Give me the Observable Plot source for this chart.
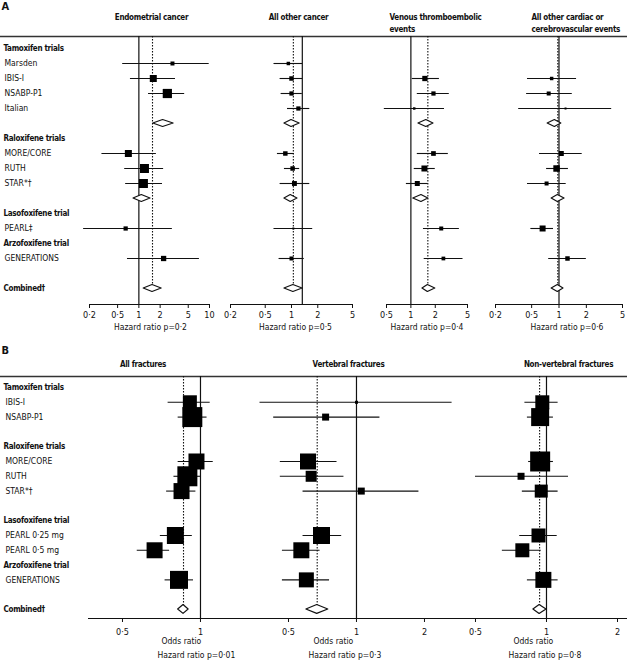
<!DOCTYPE html>
<html><head><meta charset="utf-8">
<script src="https://cdn.jsdelivr.net/npm/d3@7"></script>
<script src="https://cdn.jsdelivr.net/npm/@observablehq/plot@0.6"></script>
<style>
body{margin:0;background:#fff;}
#chart{position:relative;width:627px;height:660px;overflow:hidden;background:#fff;}
#chart svg{position:absolute;left:0;}
#chart g[font-weight="bold"] text{letter-spacing:-0.3px;}
</style></head><body><div id="chart"></div>
<script>
const FONT = '"DejaVu Sans Condensed","Liberation Sans Narrow","DejaVu Sans",sans-serif';

// ---------- Panel A ----------
const rowsA = ["Tamoxifen trials","Marsden","IBIS-I","NSABP-P1","Italian","Tamoxifen pooled",
  "Raloxifene trials","MORE/CORE","RUTH","STAR*†","Raloxifene pooled",
  "Lasofoxifene trial","PEARL‡","Arzofoxifene trial","GENERATIONS","","Combined†"];
const headersA = ["Tamoxifen trials","Raloxifene trials","Lasofoxifene trial","Arzofoxifene trial","Combined†"];
const hiddenA = ["Tamoxifen pooled","Raloxifene pooled",""];
const trialsA = ["Marsden","IBIS-I","NSABP-P1","Italian","MORE/CORE","RUTH","STAR*†","PEARL‡","GENERATIONS"];
const pooledA = ["Tamoxifen pooled","Raloxifene pooled","Combined†"];

const endoEst = [2.99,1.6,2.53,null,0.71,1.2,1.16,0.65,2.24];
const endoLo  = [0.59,0.76,1.37,null,0.30,0.63,0.65,0.165,0.69];
const endoHi  = [9.9,3.3,4.45,null,1.77,2.24,2.16,2.98,7.2];
const endoW   = [16,49,85,null,49,81,81,18,28];
const endoPoolLo = [1.6,0.84,1.17], endoPoolEst = [2.2,1.1,1.56], endoPoolHi = [3.1,1.46,2.1];

const cancEst = [0.92,1.0,1.0,1.2,0.85,1.03,1.08,1.05,1.0];
const cancLo  = [0.63,0.74,0.76,0.9,0.69,0.83,0.74,0.63,0.72];
const cancHi  = [1.34,1.34,1.33,1.62,1.08,1.24,1.62,1.75,1.4];
const cancW   = [12,20,18,18,20,20,24,4,16];
const cancPoolLo = [0.83,0.83,0.83], cancPoolEst = [1.0,0.98,1.05], cancPoolHi = [1.24,1.17,1.34];

const vteEst = [null,1.49,1.9,1.1,1.9,1.47,1.2,2.37,2.52];
const vteLo  = [null,1.04,1.2,0.47,1.2,1.1,0.88,1.43,1.46];
const vteHi  = [null,2.25,2.98,2.6,2.9,2.0,1.64,3.97,4.4];
const vteW   = [null,28,18,6,22,36,25,16,14];
const vtePoolLo = [1.24,1.07,1.39], vtePoolEst = [1.55,1.35,1.62], vtePoolHi = [1.9,1.64,2.0];

const cardEst = [null,0.83,0.77,1.18,1.06,0.94,0.73,0.66,1.24];
const cardLo  = [null,0.45,0.44,0.36,0.61,0.73,0.45,0.49,0.77];
const cardHi  = [null,1.56,1.4,3.8,1.8,1.27,1.2,0.87,2.0];
const cardW   = [null,12,16,4,25,42,16,36,20];
const cardPoolLo = [0.75,0.83,0.83], cardPoolEst = [0.9,0.97,0.97], cardPoolHi = [1.06,1.15,1.12];

const ticksA1 = [0.2,0.5,1,2,5,10];
const ticksA2 = [0.2,0.5,1,2,5];
const ticksA3 = [0.5,1,2,5];
const ticksA4 = [0.2,0.5,1,2,5];

// ---------- Panel B ----------
const rowsB = ["Tamoxifen trials","IBIS-I","NSABP-P1","","Raloxifene trials","MORE/CORE","RUTH","STAR*†"," ",
  "Lasofoxifene trial","PEARL 0·25 mg","PEARL 0·5 mg","Arzofoxifene trial","GENERATIONS","  ","Combined†"];
const headersB = ["Tamoxifen trials","Raloxifene trials","Lasofoxifene trial","Arzofoxifene trial","Combined†"];
const hiddenB = [""," ","  "];
const trialsB = ["IBIS-I","NSABP-P1","MORE/CORE","RUTH","STAR*†","PEARL 0·25 mg","PEARL 0·5 mg","GENERATIONS"];
const pooledB = ["Combined†"];

const allEst = [0.91,0.93,0.965,0.89,0.845,0.80,0.665,0.826];
const allLo  = [0.75,0.82,0.82,0.79,0.74,0.70,0.57,0.73];
const allHi  = [1.09,1.06,1.12,1.0,0.96,0.93,0.76,0.94];
const allW   = [196,400,256,400,256,289,256,324];
const allPoolLo = [0.82], allPoolEst = [0.86], allPoolHi = [0.90];

const vertEst = [1.0,0.73,0.61,0.63,1.05,0.70,0.57,0.60];
const vertLo  = [0.374,0.43,0.46,0.46,0.58,0.58,0.47,0.47];
const vertHi  = [2.65,1.27,0.82,0.88,1.89,0.86,0.69,0.76];
const vertW   = [9,49,256,121,49,289,256,225];
const vertPoolLo = [0.60], vertPoolEst = [0.67], vertPoolHi = [0.75];

const nvEst = [0.96,0.94,0.94,0.78,0.95,0.925,0.79,0.97];
const nvLo  = [0.81,0.83,0.84,0.5,0.79,0.77,0.65,0.83];
const nvHi  = [1.12,1.07,1.07,1.24,1.12,1.11,0.95,1.12];
const nvW   = [196,324,400,49,169,196,196,256];
const nvPoolLo = [0.88], nvPoolEst = [0.935], nvPoolHi = [1.0];

const ticksB1 = [0.5,1];
const ticksB2 = [0.5,1,2];
const ticksB3 = [0.5,1,2];

// ---------- helpers ----------
const fmt = d => String(d).replace(".", "·");
const W = 627;
const baseStyle = {background:"transparent", fontFamily: FONT, fontSize:"9px", color:"#111", overflow:"visible"};

function forest(p) {
  const pts = p.trials.map((t,i) => ({slot: p.rows.indexOf(t), est: p.est[i], lo: p.lo[i], hi: p.hi[i], w: p.w[i]}))
    .filter(d => d.est != null);
  const dias = p.pooled.map((name,i) => ({id:name, slot: p.rows.indexOf(name), lo: p.pLo[i], est: p.pEst[i], hi: p.pHi[i]}));
  const diaPts = dias.flatMap(d => [
    {id:d.id, y:d.slot - p.dh, x1:d.est, x2:d.est},
    {id:d.id, y:d.slot, x1:d.lo, x2:d.hi},
    {id:d.id, y:d.slot + p.dh, x1:d.est, x2:d.est}]);
  const comb = dias[dias.length-1];
  const marks = [
    Plot.ruleY([p.yDom[1]], {stroke:"#111", strokeWidth:1.2}),
    Plot.ruleX([p.ref], {y1:p.yDom[0], y2:p.yDom[1], stroke:"#111", strokeWidth:1.2}),
    Plot.ruleX([comb.est], {y1:p.yDom[0], y2:comb.slot, stroke:"#111", strokeWidth:1.1, strokeDasharray:"1.5,1.5"}),
    Plot.ruleY(pts, {y:"slot", x1:"lo", x2:"hi", stroke:"#111", strokeWidth:1.1}),
    Plot.dot(pts, {x:"est", y:"slot", r:"w", symbol:"square", fill:"#000", stroke:null}),
    Plot.areaX(diaPts, {y:"y", x1:"x1", x2:"x2", z:"id", fill:"#fff", stroke:"#111", strokeWidth:1.2}),
    Plot.axisX(p.ticks, {tickSize:4, tickFormat:() => "", label:null}),
    Plot.text(p.ticks, {x:d => d, frameAnchor:"bottom", lineAnchor:"middle", dy:p.tickDy, text:fmt, fontSize:9}),
    Plot.text([p.title], {frameAnchor:p.titleAnchor, textAnchor:p.titleAnchor === "top" ? "middle" : "start",
      lineAnchor:"top", dx:p.titleDx, dy:p.titleDy, fontWeight:"bold", lineHeight:1.5, text:d => d, fontSize:8})
  ];
  p.xLabels.forEach(l => marks.push(Plot.text([l.text], {frameAnchor:l.anchor, textAnchor:l.anchor === "bottom" ? "middle" : "start",
    lineAnchor:"middle", dx:l.dx, dy:l.dy, text:d => d, fontSize:8.5})));
  return Plot.plot({
    width: W, height: p.height, marginTop: p.mt, marginBottom: p.mb,
    marginLeft: p.left, marginRight: W - p.right,
    style: baseStyle,
    x: {type:"log", domain:p.domain},
    y: {domain:p.yDom, reverse:true, axis:null},
    r: {domain:[0,400], range:[0, 20/Math.sqrt(Math.PI)]},
    marks
  });
}

function labels(p) {
  const shown = p.rows.map((r,i) => ({r, slot:i})).filter(d => !p.hidden.includes(d.r));
  return Plot.plot({
    width: W, height: p.height, marginTop: p.mt, marginBottom: p.mb, marginLeft: 0, marginRight: 0,
    style: baseStyle,
    x: {domain:[0,1], axis:null},
    y: {domain:p.yDom, reverse:true, axis:null},
    marks: [
      Plot.ruleY([p.yDom[0]], {stroke:"#333", strokeWidth:1.5}),
      Plot.text(shown.filter(d => p.headers.includes(d.r)), {y:"slot", text:"r", frameAnchor:"left", textAnchor:"start", dx:3, fontWeight:"bold", fontSize:8}),
      Plot.text(shown.filter(d => !p.headers.includes(d.r)), {y:"slot", text:"r", frameAnchor:"left", textAnchor:"start", dx:p.indent, fontSize:8.5}),
      Plot.text([p.letter], {frameAnchor:"top-left", textAnchor:"start", lineAnchor:"top", dx:1, dy:p.letterDy, fontWeight:"bold", fontSize:11, text:d => d})
    ]
  });
}

const chart = document.getElementById("chart");
function place(svg, top) { svg.style.top = top + "px"; chart.appendChild(svg); }

// Section A
const yA = [-0.8, 17.067];
const secA = {height:340, mt:36, mb:36, yDom:yA, rows:rowsA, trials:trialsA, pooled:pooledA, dh:0.23, tickDy:11, titleDy:-25};
place(labels({...secA, hidden:hiddenA, headers:headersA, indent:4, letter:"A", letterDy:-34}), 0);
place(forest({...secA, left:89, right:209, domain:[0.2,10], ticks:ticksA1, ref:1,
  est:endoEst, lo:endoLo, hi:endoHi, w:endoW, pLo:endoPoolLo, pEst:endoPoolEst, pHi:endoPoolHi,
  title:"Endometrial cancer", titleAnchor:"top", titleDx:2,
  xLabels:[{text:"Hazard ratio p=0·2", anchor:"bottom", dx:1, dy:23}]}), 0);
place(forest({...secA, left:230, right:352, domain:[0.2,5], ticks:ticksA2, ref:1.33,
  est:cancEst, lo:cancLo, hi:cancHi, w:cancW, pLo:cancPoolLo, pEst:cancPoolEst, pHi:cancPoolHi,
  title:"All other cancer", titleAnchor:"top", titleDx:7,
  xLabels:[{text:"Hazard ratio p=0·5", anchor:"bottom", dx:4, dy:23}]}), 0);
place(forest({...secA, left:386, right:467, domain:[0.5,5], ticks:ticksA3, ref:1,
  est:vteEst, lo:vteLo, hi:vteHi, w:vteW, pLo:vtePoolLo, pEst:vtePoolEst, pHi:vtePoolHi,
  title:"Venous thromboembolic\nevents", titleAnchor:"top-left", titleDx:3,
  xLabels:[{text:"Hazard ratio p=0·4", anchor:"bottom", dx:0, dy:23}]}), 0);
place(forest({...secA, left:495, right:622, domain:[0.2,5], ticks:ticksA4, ref:1,
  est:cardEst, lo:cardLo, hi:cardHi, w:cardW, pLo:cardPoolLo, pEst:cardPoolEst, pHi:cardPoolHi,
  title:"All other cardiac or\ncerebrovascular events", titleAnchor:"top-left", titleDx:36,
  xLabels:[{text:"Hazard ratio p=0·6", anchor:"bottom", dx:8, dy:23}]}), 0);

// Section B
const yB = [-0.743, 15.61];
const secB = {height:320, mt:36, mb:42, yDom:yB, rows:rowsB, trials:trialsB, pooled:pooledB, dh:0.3, tickDy:14, titleDy:-18};
place(labels({...secB, hidden:hiddenB, headers:headersB, indent:5, letter:"B", letterDy:-30}), 340);
place(forest({...secB, left:88, right:245, domain:[0.3696,1.492], ticks:ticksB1, ref:1,
  est:allEst, lo:allLo, hi:allHi, w:allW, pLo:allPoolLo, pEst:allPoolEst, pHi:allPoolHi,
  title:"All fractures", titleAnchor:"top", titleDx:-24,
  xLabels:[{text:"Odds ratio", anchor:"bottom-left", dx:73, dy:23}, {text:"Hazard ratio p=0·01", anchor:"bottom-left", dx:69, dy:37}]}), 340);
place(forest({...secB, left:245, right:455, domain:[0.3226,2.744], ticks:ticksB2, ref:1,
  est:vertEst, lo:vertLo, hi:vertHi, w:vertW, pLo:vertPoolLo, pEst:vertPoolEst, pHi:vertPoolHi,
  title:"Vertebral fractures", titleAnchor:"top", titleDx:-2,
  xLabels:[{text:"Odds ratio", anchor:"bottom-left", dx:68, dy:23}, {text:"Hazard ratio p=0·3", anchor:"bottom-left", dx:63, dy:37}]}), 340);
place(forest({...secB, left:455, right:627, domain:[0.4114,2.205], ticks:ticksB3, ref:1,
  est:nvEst, lo:nvLo, hi:nvHi, w:nvW, pLo:nvPoolLo, pEst:nvPoolEst, pHi:nvPoolHi,
  title:"Non-vertebral fractures", titleAnchor:"top", titleDx:27,
  xLabels:[{text:"Odds ratio", anchor:"bottom-left", dx:58, dy:23}, {text:"Hazard ratio p=0·8", anchor:"bottom-left", dx:53, dy:37}]}), 340);
</script></body></html>
